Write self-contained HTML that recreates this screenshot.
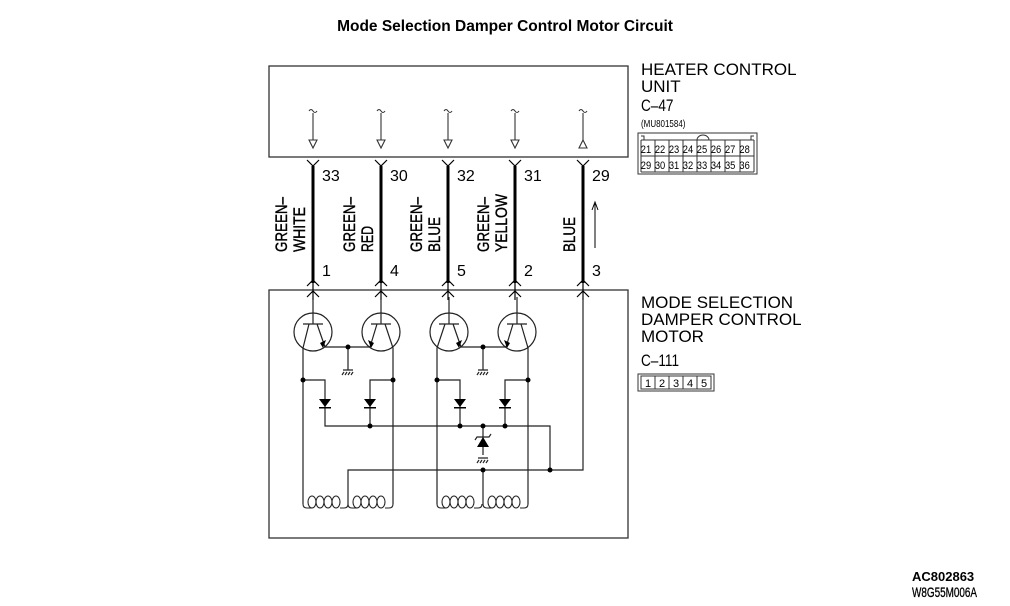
<!DOCTYPE html>
<html><head><meta charset="utf-8"><style>
html,body{margin:0;padding:0;background:#fff}
svg{display:block}
text{font-family:"Liberation Sans",sans-serif;fill:#000}
.n{font-size:16px}
.w{font-size:17px;stroke:#000;stroke-width:0.4}
</style></head><body>
<svg width="1010" height="606" viewBox="0 0 1010 606" xmlns="http://www.w3.org/2000/svg">
<text x="505" y="31" text-anchor="middle" font-weight="bold" font-size="15.5">Mode Selection Damper Control Motor Circuit</text>

<g fill="none" stroke="#333" stroke-width="1.3">
<rect x="269" y="66" width="359" height="91"/>
<rect x="269" y="290" width="359" height="248"/>
</g>

<g fill="none" stroke="#333" stroke-width="1.1">
<g id="ia">
<path d="M309,111 q2,-3 4,0 q2,3 4,0"/>
<line x1="313" y1="113" x2="313" y2="140"/>
<path d="M309,140 L317,140 L313,148 Z" fill="#fff"/>
</g>
<use href="#ia" x="68"/><use href="#ia" x="135"/><use href="#ia" x="202"/>
<path d="M579,111 q2,-3 4,0 q2,3 4,0"/>
<line x1="583" y1="113" x2="583" y2="140"/>
<path d="M579,148 L587,148 L583,140 Z" fill="#fff"/>
</g>

<g id="wire">
<line x1="313" y1="166" x2="313" y2="283" stroke="#000" stroke-width="3"/>
<path d="M307,160 L313,166 L319,160" fill="none" stroke="#000" stroke-width="1.2"/>
<path d="M307,286 L313,280 L319,286 M307,297 L313,291 L319,297 M313,280 L313,300" fill="none" stroke="#000" stroke-width="1.2"/>
</g>
<use href="#wire" x="68"/><use href="#wire" x="135"/><use href="#wire" x="202"/><use href="#wire" x="270"/>

<g class="n">
<text x="322" y="181">33</text><text x="390" y="181">30</text><text x="457" y="181">32</text><text x="524" y="181">31</text><text x="592" y="181">29</text>
<text x="322" y="276">1</text><text x="390" y="276">4</text><text x="457" y="276">5</text><text x="524" y="276">2</text><text x="592" y="276">3</text>
</g>
<line x1="595" y1="248" x2="595" y2="204" stroke="#000" stroke-width="1"/>
<path d="M592,210 L595,202 L598,210" fill="none" stroke="#000" stroke-width="1"/>

<g class="w">
<text transform="translate(287,252) rotate(-90)" textLength="55" lengthAdjust="spacingAndGlyphs">GREEN–</text>
<text transform="translate(305,252) rotate(-90)" textLength="45" lengthAdjust="spacingAndGlyphs">WHITE</text>
<text transform="translate(355,252) rotate(-90)" textLength="55" lengthAdjust="spacingAndGlyphs">GREEN–</text>
<text transform="translate(373,252) rotate(-90)" textLength="26" lengthAdjust="spacingAndGlyphs">RED</text>
<text transform="translate(422,252) rotate(-90)" textLength="55" lengthAdjust="spacingAndGlyphs">GREEN–</text>
<text transform="translate(440,252) rotate(-90)" textLength="35" lengthAdjust="spacingAndGlyphs">BLUE</text>
<text transform="translate(489,252) rotate(-90)" textLength="55" lengthAdjust="spacingAndGlyphs">GREEN–</text>
<text transform="translate(507,252) rotate(-90)" textLength="58" lengthAdjust="spacingAndGlyphs">YELLOW</text>
<text transform="translate(575,252) rotate(-90)" textLength="35" lengthAdjust="spacingAndGlyphs">BLUE</text>
</g>

<g fill="none" stroke="#222" stroke-width="1.2">
<circle cx="313" cy="332" r="19"/><circle cx="381" cy="332" r="19"/>
<circle cx="449" cy="332" r="19"/><circle cx="517" cy="332" r="19"/>
<path d="M313,297 V324 M303,324 H323 M309,324 L303,348 V504 M317,324 L325,347 H370 M385,324 L393,348 V504 M371,324 H391 M377,324 L370,347 M381,297 V324"/>
<path d="M449,297 V324 M439,324 H459 M445,324 L437,348 V504 M453,324 L461,347 H506 M521,324 L528,348 V504 M507,324 H527 M513,324 L506,347 M517,297 V324"/>
<path d="M348,347 V370 M343,370 H353 M344,372 l-2,3 M347,372 l-2,3 M350,372 l-2,3 M353,372 l-2,3"/>
<path d="M483,347 V370 M478,370 H488 M479,372 l-2,3 M482,372 l-2,3 M485,372 l-2,3 M488,372 l-2,3"/>
<path d="M303,380 H325 V426 H550 V470 M393,380 H370 V426 M437,380 H460 V426 M528,380 H505 V426"/>
<path d="M483,426 V455 M478,458 H488 M479,460 l-2,3 M482,460 l-2,3 M485,460 l-2,3 M488,460 l-2,3"/>
<path d="M348,504 V470 H583 V297 M483,470 V504"/>
<path d="M475,440 L477,437 H489 L491,434"/>
</g>
<g fill="#000">
<path d="M319,399 H331 L325,407 Z"/><rect x="319" y="407" width="12" height="1.5"/>
<path d="M364,399 H376 L370,407 Z"/><rect x="364" y="407" width="12" height="1.5"/>
<path d="M454,399 H466 L460,407 Z"/><rect x="454" y="407" width="12" height="1.5"/>
<path d="M499,399 H511 L505,407 Z"/><rect x="499" y="407" width="12" height="1.5"/>
<path d="M477,447 H489 L483,437 Z"/>
<path d="M323,348 L326,340 L320,343 Z"/><path d="M371,348 L368,340 L374,343 Z"/>
<path d="M459,348 L462,340 L456,343 Z"/><path d="M507,348 L504,340 L510,343 Z"/>
<circle cx="348" cy="347" r="2.5"/><circle cx="483" cy="347" r="2.5"/>
<circle cx="303" cy="380" r="2.5"/><circle cx="393" cy="380" r="2.5"/>
<circle cx="437" cy="380" r="2.5"/><circle cx="528" cy="380" r="2.5"/>
<circle cx="370" cy="426" r="2.5"/><circle cx="460" cy="426" r="2.5"/>
<circle cx="483" cy="426" r="2.5"/><circle cx="505" cy="426" r="2.5"/>
<circle cx="483" cy="470" r="2.5"/><circle cx="550" cy="470" r="2.5"/>
</g>
<g fill="none" stroke="#222" stroke-width="1.1">
<g id="coil">
<path d="M303,504 q0,4 4,4 M348,504 q0,4 -4,4"/>
<ellipse cx="312" cy="502" rx="4" ry="6"/>
<ellipse cx="320" cy="502" rx="4" ry="6"/>
<ellipse cx="328" cy="502" rx="4" ry="6"/>
<ellipse cx="336" cy="502" rx="4" ry="6"/>
<path d="M307,508 H312 M340,508 H344"/>
</g>
<use href="#coil" x="45"/><use href="#coil" x="134"/><use href="#coil" x="180"/>
</g>

<g font-size="17">
<text x="641" y="75">HEATER CONTROL</text>
<text x="641" y="92">UNIT</text>
<text x="641" y="308">MODE SELECTION</text>
<text x="641" y="325">DAMPER CONTROL</text>
<text x="641" y="342">MOTOR</text>
</g>
<g transform="scale(0.8,1)" font-size="17">
<text x="801.25" y="111">C–47</text>
<text x="801.25" y="366">C–111</text>
<text x="801.25" y="127" font-size="10">(MU801584)</text>
</g>
<g fill="none" stroke="#333" stroke-width="1">
<rect x="638" y="133" width="119" height="41"/>
<path d="M641,140 H754 M641,156 H754 M641,172 H754 M641,140 V172 M754,140 V172"/>
<path d="M641,136 h3 v4 M754,136 h-3 v4 M697,140 a6,5 0 0 1 12,0"/>
<path d="M655,140 V172 M669,140 V172 M683,140 V172 M697,140 V172 M711,140 V172 M725,140 V172 M740,140 V172"/>
<rect x="638" y="374" width="76" height="17"/>
<rect x="641" y="376" width="70" height="13"/>
<path d="M655,376 V389 M669,376 V389 M683,376 V389 M697,376 V389"/>
</g>
<g font-size="11" text-anchor="middle">
<g transform="scale(0.85,1)">
<text x="760" y="153">21</text><text x="776.5" y="153">22</text><text x="793" y="153">23</text><text x="809.4" y="153">24</text><text x="825.9" y="153">25</text><text x="842.4" y="153">26</text><text x="859" y="153">27</text><text x="876" y="153">28</text>
<text x="760" y="169">29</text><text x="776.5" y="169">30</text><text x="793" y="169">31</text><text x="809.4" y="169">32</text><text x="825.9" y="169">33</text><text x="842.4" y="169">34</text><text x="859" y="169">35</text><text x="876" y="169">36</text>
</g>
<text x="648" y="387">1</text><text x="662" y="387">2</text><text x="676" y="387">3</text><text x="690" y="387">4</text><text x="704" y="387">5</text>
</g>

<text x="912" y="581" font-weight="bold" font-size="13">AC802863</text>
<text x="912" y="597" font-size="14" stroke="#000" stroke-width="0.3" textLength="65" lengthAdjust="spacingAndGlyphs">W8G55M006A</text>
</svg>
</body></html>
